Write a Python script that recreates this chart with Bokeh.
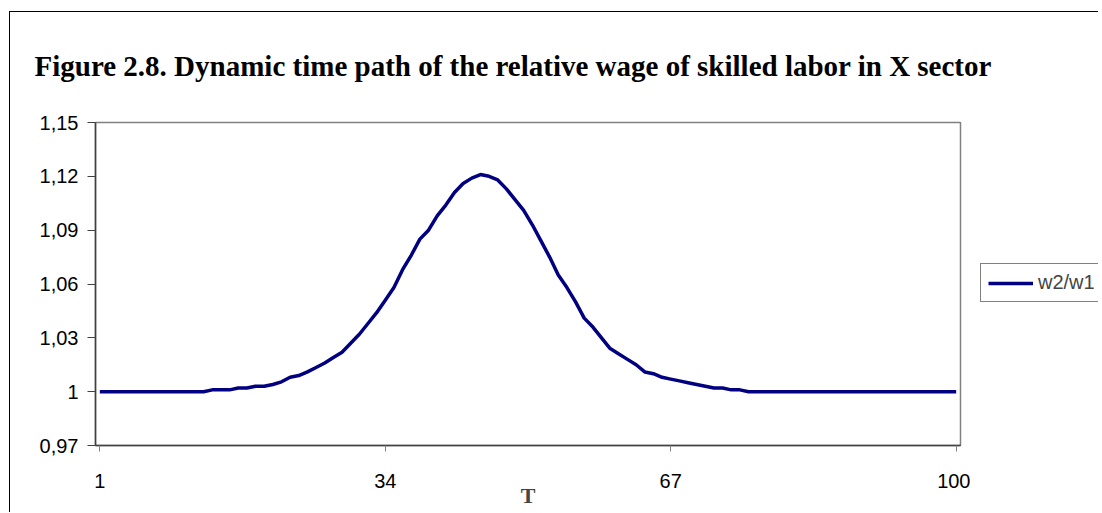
from bokeh.plotting import figure
from bokeh.models import FixedTicker, Range1d, Legend, LegendItem
from bokeh.layouts import column, row
from bokeh.embed import file_html
from bokeh.resources import INLINE

t = list(range(1, 101))
w2_w1 = (
    [1.000] * 13
    + [1.001, 1.001, 1.001, 1.002, 1.002, 1.003, 1.003, 1.004, 1.0055, 1.008,
       1.009, 1.011, 1.0135, 1.016, 1.019, 1.022, 1.027, 1.032, 1.038, 1.044,
       1.051, 1.058, 1.068, 1.076, 1.085, 1.090, 1.098, 1.104, 1.111, 1.116,
       1.119, 1.121, 1.120, 1.118, 1.113, 1.107, 1.101, 1.093, 1.084, 1.075,
       1.065, 1.058, 1.050, 1.041, 1.036, 1.030, 1.024, 1.021, 1.018, 1.015,
       1.011, 1.010, 1.008, 1.007, 1.006, 1.005, 1.004, 1.003, 1.002, 1.002,
       1.001, 1.001]
    + [1.000] * 25
)
y_ticks = [0.97, 1.00, 1.03, 1.06, 1.09, 1.12, 1.15]
y_labels = ["0,97", "1", "1,03", "1,06", "1,09", "1,12", "1,15"]
x_ticks = [1, 34, 67, 100]
x_labels = ["1", "34", "67", "100"]
title_text = "Figure 2.8. Dynamic time path of the relative wage of  skilled labor in X sector"
series_name = "w2/w1"

LINE_COLOR = "#000080"

# --- title strip ---
pt = figure(width=1088, height=95, output_backend="svg", toolbar_location=None,
            x_range=Range1d(0, 1), y_range=Range1d(0, 1),
            x_axis_location=None, y_axis_location=None,
            min_border_left=0, min_border_right=0, min_border_top=69, min_border_bottom=0)
pt.title.text = title_text
pt.title.text_font = "Liberation Serif"
pt.title.text_font_size = "29px"
pt.title.text_font_style = "bold"
pt.title.text_color = "black"
pt.title.align = "left"
pt.title.offset = 24
pt.title.standoff = 0
pt.xgrid.visible = False
pt.ygrid.visible = False
pt.outline_line_color = None

# --- main chart ---
p = figure(width=960, height=405, output_backend="svg", toolbar_location=None,
           title_location=None,
           x_range=Range1d(0.5, 100.5), y_range=Range1d(0.97, 1.15),
           min_border_left=85, min_border_right=10, min_border_top=15, min_border_bottom=67)
p.xgrid.visible = False
p.ygrid.visible = False
p.outline_line_color = "#808080"
p.outline_line_width = 1.5

p.line(t, w2_w1, line_color=LINE_COLOR, line_width=3.5)

p.yaxis.ticker = FixedTicker(ticks=y_ticks)
p.yaxis.major_label_overrides = {v: s for v, s in zip(y_ticks, y_labels)}
p.yaxis.minor_tick_line_color = None
p.yaxis.major_tick_in = 0
p.yaxis.major_tick_out = 8
p.yaxis.major_label_standoff = 9
p.yaxis.axis_line_color = "#404040"
p.yaxis.axis_line_width = 1.5
p.yaxis.major_tick_line_color = "#404040"
p.yaxis.major_label_text_font = "Liberation Sans"
p.yaxis.major_label_text_font_size = "20px"
p.yaxis.major_label_text_color = "black"

p.xaxis.ticker = FixedTicker(ticks=x_ticks)
p.xaxis.major_label_overrides = {v: s for v, s in zip(x_ticks, x_labels)}
p.xaxis.minor_tick_line_color = None
p.xaxis.major_tick_in = 0
p.xaxis.major_tick_out = 6
p.xaxis.major_label_standoff = 22
p.xaxis.axis_line_color = "#404040"
p.xaxis.axis_line_width = 1.5
p.xaxis.major_tick_line_color = "#808080"
p.xaxis.major_label_text_font = "Liberation Sans"
p.xaxis.major_label_text_font_size = "20px"
p.xaxis.major_label_text_color = "black"
p.xaxis.axis_label = "T"
p.xaxis.axis_label_text_font = "Liberation Serif"
p.xaxis.axis_label_text_font_style = "bold"
p.xaxis.axis_label_text_font_size = "22px"
p.xaxis.axis_label_standoff = -8

# --- legend strip (series drawn out of view; only its legend entry shows) ---
pl = figure(width=128, height=405, output_backend="svg", toolbar_location=None,
            title_location=None,
            x_range=Range1d(-2, -1), y_range=Range1d(-2, -1),
            x_axis_location=None, y_axis_location=None,
            min_border_left=0, min_border_right=0, min_border_top=0, min_border_bottom=0)
pl.xgrid.visible = False
pl.ygrid.visible = False
pl.outline_line_color = None
r_leg = pl.line(t, w2_w1, line_color=LINE_COLOR, line_width=3.5)
legend = Legend(items=[LegendItem(label=series_name, renderers=[r_leg])],
                location=(10, 143), margin=0, padding=7, spacing=0,
                glyph_width=45, glyph_height=20, label_height=22, label_standoff=5,
                label_text_font="Liberation Sans", label_text_font_size="20px",
                border_line_color="black", border_line_width=1)
pl.add_layout(legend)

layout = column(pt, row(p, pl, spacing=0), spacing=0, margin=(11, 0, 0, 9),
                styles={"border-left": "1.5px solid black", "border-top": "1.5px solid black"})

open("out.html", "w").write(file_html(layout, INLINE))
